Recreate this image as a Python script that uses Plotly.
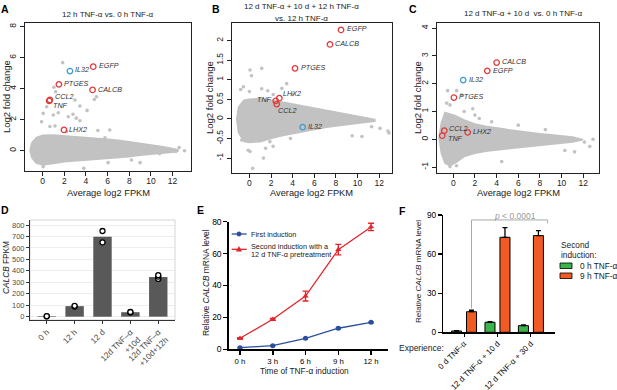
import plotly.graph_objects as go

W, H = 617, 390
FONT = "Liberation Sans, Arial, sans-serif"

# ======================= DATA =======================
genes = ["EGFP", "CALCB", "PTGES", "CCL2", "TNF", "LHX2", "IL32"]
ma_xticks = [0, 2, 4, 6, 8, 10, 12]

# Panel A : 12 h TNF-a vs. 0 h TNF-a
A_cloud_x = [-1.17, -1.0, -0.6, 0.0, 1.0, 2.0, 3.0, 4.0, 5.0, 6.0, 7.0, 8.0, 9.0, 10.0, 11.0, 12.0, 12.5]
A_cloud_hi = [0.0, 0.5, 0.85, 1.0, 1.02, 0.97, 0.92, 0.86, 0.8, 0.74, 0.67, 0.58, 0.48, 0.38, 0.27, 0.15, 0.05]
A_cloud_lo = [0.0, -0.45, -0.8, -0.92, -0.82, -0.72, -0.66, -0.6, -0.55, -0.49, -0.44, -0.39, -0.3, -0.22, -0.16, -0.1, -0.03]
A_out_x = [1.85, 1.04, 1.2, 2.98, 4.77, 4.98, 3.44, 4.1, 0.05, 0.98, 2.37, 3.44, -0.1, 0.67, 2.2, 5.1,
           6.2, 0.37, 1.44, 2.8, 3.1, 1.14, 5.75, 0.05, 3.8, 6.05, 8.2, 9.0, 10.8, 13.1, 12.3, 12.6]
A_out_y = [5.68, 4.09, 3.8, 3.27, 3.3, 3.48, 2.88, 2.6, 2.41, 2.3, 2.19, 1.93, 1.87, 1.56, 1.23, 1.3,
           1.34, 2.84, 2.45, 2.35, 2.1, 1.59, 0.84, -1.03, -1.14, -0.77, -0.6, -0.77, -0.2, 0.0, -0.05, 0.2]
A_gene_x = [4.67, 4.61, 1.5, 0.67, 0.6, 1.97, 2.52]
A_gene_y = [5.42, 3.92, 4.28, 3.27, 3.22, 1.34, 5.14]
A_yticks = [0, 2, 4, 6, 8]
A_yticktext = ["0", "2", "4", "6", "8"]

# Panel B : 12 d + 10 d + 12 h vs. 12 h
B_cloud_x = [-1.17, -1.0, -0.5, 0.0, 1.0, 2.0, 3.0, 4.0, 5.0, 6.0, 7.0, 8.0, 9.0, 10.0, 11.0, 11.6]
B_cloud_hi = [0.0, 0.3, 0.48, 0.5, 0.52, 0.48, 0.43, 0.38, 0.33, 0.28, 0.22, 0.17, 0.12, 0.07, 0.02, -0.02]
B_cloud_lo = [0.0, -0.35, -0.58, -0.6, -0.58, -0.5, -0.43, -0.38, -0.32, -0.27, -0.22, -0.18, -0.14, -0.11, -0.08, -0.06]
B_out_x = [0.06, 1.14, 0.2, -0.55, -0.8, 0.0, 1.14, 1.7, 2.2, 3.0, 3.45, 4.0, -0.7, -0.1, 0.06, 1.3,
           0.31, 1.9, 2.2, 9.5, 10.4, 12.07, 12.8, 12.9, 11.3, 3.8, 1.5]
B_out_y = [1.25, 1.29, 1.1, 0.82, 0.75, 0.7, 0.77, 0.72, 0.62, 0.78, 0.9, 0.62, -0.54, -0.8, -0.83, -1.0,
           -1.26, -0.58, -0.7, -0.43, -0.45, -0.24, -0.31, -0.36, -0.2, -0.5, -0.75]
B_gene_x = [8.47, 7.45, 4.22, 2.53, 2.44, 2.77, 4.93]
B_gene_y = [2.27, 1.9, 1.29, 0.38, 0.46, 0.53, -0.21]
B_yticks = [-1, -0.5, 0, 0.5, 1, 1.5, 2]
B_yticktext = ["-1", "-0.5", "0", "0.5", "1", "1.5", "2"]

# Panel C : 12 d + 10 d vs. 0 h
C_cloud_x = [-1.32, -1.1, -0.77, -0.3, 0.2, 1.0, 2.0, 3.0, 4.0, 5.0, 6.0, 7.0, 8.0, 9.0, 10.0, 11.0, 11.9]
C_cloud_hi = [0.05, 0.6, 0.97, 0.92, 0.85, 0.7, 0.55, 0.47, 0.4, 0.35, 0.3, 0.24, 0.2, 0.16, 0.12, 0.08, 0.0]
C_cloud_lo = [0.05, -0.5, -0.86, -0.95, -0.85, -0.62, -0.5, -0.43, -0.38, -0.33, -0.28, -0.24, -0.2, -0.17, -0.14, -0.1, -0.02]
C_out_x = [-0.52, 0.31, 0.77, -0.3, 2.0, 2.4, 1.0, 3.54, 6.0, 12.6, 12.1, 11.2, 4.47, -0.3, 0.3, 10.3,
           12.9, 8.5, 1.8, -0.6]
C_out_y = [1.75, 1.75, 1.6, 1.23, 0.87, 0.75, 1.0, 0.63, 0.51, -0.26, -0.1, -0.45, -0.8, -0.98, -0.95, -0.4,
           0.0, 0.35, 1.1, 1.3]
C_gene_x = [3.14, 4.0, 0.06, -0.83, -1.02, 1.33, 0.92]
C_gene_y = [2.46, 2.76, 1.5, 0.31, 0.13, 0.25, 2.13]
C_yticks = [-1, 0, 1, 2, 3, 4]
C_yticktext = ["-1", "0", "1", "2", "3", "4"]

# Panel D : CALCB FPKM
D_cats = ["0 h", "12 h", "12 d", "12d TNF–α<br>+10d", "12d TNF–α<br>+10d+12h"]
D_fpkm = [5, 92, 698, 39, 346]
D_rep_cat = [D_cats[0]] * 2 + [D_cats[1]] * 2 + [D_cats[2]] * 2 + [D_cats[3]] * 2 + [D_cats[4]] * 3
D_rep_val = [2, 5, 88, 95, 649, 748, 37, 41, 330, 350, 362]
D_yticks = [0, 100, 200, 300, 400, 500, 600, 700, 800]

# Panel E : time course
E_hours = [0, 3, 6, 9, 12]
E_hour_labels = ["0 h", "3 h", "6 h", "9 h", "12 h"]
E_first = [1.0, 2.3, 6.9, 13.2, 16.9]
E_first_err = [0.3, 0.3, 0.4, 0.5, 0.5]
E_second = [6.9, 18.8, 33.4, 62.5, 76.7]
E_second_err = [0.4, 0.6, 3.1, 3.3, 2.3]
E_yticks = [0, 20, 40, 60, 80]

# Panel F : memory bars
F_cats = ["0 d TNF-α", "12 d TNF-α + 10 d", "12 d TNF-α + 30 d"]
F_0h = [1.0, 7.7, 5.1]
F_0h_err = [0.3, 0.5, 0.5]
F_9h = [15.8, 72.9, 74.2]
F_9h_err = [1.1, 7.4, 3.8]
F_yticks = [0, 30, 60, 90]

# ======================= STYLE =======================
GRAY = "#c2c2c2"
RED = "#e23a3a"
BLUE = "#3a9ad6"
E_BLUE = "#2b4f9e"
E_RED = "#e3262b"
GREEN = "#3bb54a"
ORANGE = "#f15a22"

fig = go.Figure()
annotations = []
shapes = []


def pann(text, x, y, size, xanchor="center", yanchor="middle", angle=0, color="#222"):
    annotations.append(dict(text=text, x=x / W, y=1 - y / H, xref="paper", yref="paper",
                            showarrow=False, xanchor=xanchor, yanchor=yanchor, textangle=angle,
                            font=dict(family=FONT, size=size, color=color)))


def axname(i, kind):
    return kind if i == 1 else f"{kind}{i}"


def ma_panel(i, cx, hi, lo, ox, oy, gx, gy, lab):
    xa, ya = axname(i, "x"), axname(i, "y")
    fig.add_trace(go.Scatter(x=cx + cx[::-1], y=hi + lo[::-1], fill="toself", fillcolor=GRAY,
                             mode="lines", line=dict(color=GRAY, width=1.5), xaxis=xa, yaxis=ya,
                             hoverinfo="skip"))
    fig.add_trace(go.Scatter(x=ox, y=oy, mode="markers", marker=dict(color=GRAY, size=3.6),
                             xaxis=xa, yaxis=ya, hoverinfo="skip"))
    red = [k for k, g in enumerate(genes) if g != "IL32"]
    blue = [k for k, g in enumerate(genes) if g == "IL32"]
    for idx, col in ((red, RED), (blue, BLUE)):
        fig.add_trace(go.Scatter(x=[gx[k] for k in idx], y=[gy[k] for k in idx], mode="markers",
                                 marker=dict(symbol="circle-open", size=5.5, color=col,
                                             line=dict(width=1.3)),
                                 xaxis=xa, yaxis=ya, cliponaxis=False))
    for k, g in enumerate(genes):
        xs, ys, anc = lab[g]
        annotations.append(dict(text=f"<i>{g}</i>", x=gx[k], y=gy[k], xref=xa, yref=ya,
                                xshift=xs, yshift=ys, xanchor=anc, yanchor="middle",
                                showarrow=False, font=dict(family=FONT, size=7.2, color="#333")))


A_lab = {"EGFP": (3.5, 1, "left"), "CALCB": (3.5, 0.5, "left"), "PTGES": (3.5, 1, "left"),
         "CCL2": (3, 3.5, "left"), "TNF": (2, -5, "left"), "LHX2": (3, 0, "left"),
         "IL32": (3.5, 1.5, "left")}
B_lab = {"EGFP": (3.5, 1.5, "left"), "CALCB": (3.5, 1, "left"), "PTGES": (3.5, 0.5, "left"),
         "CCL2": (-1, -6, "left"), "TNF": (-2, 1, "right"), "LHX2": (2, 5, "left"),
         "IL32": (3, 1, "left")}
C_lab = {"EGFP": (3.5, 0.5, "left"), "CALCB": (3.5, 1, "left"), "PTGES": (3.5, 1.5, "left"),
         "CCL2": (3, 2.5, "left"), "TNF": (4, -3, "left"), "LHX2": (3, 0.5, "left"),
         "IL32": (3.5, 1, "left")}

ma_panel(1, A_cloud_x, A_cloud_hi, A_cloud_lo, A_out_x, A_out_y, A_gene_x, A_gene_y, A_lab)
ma_panel(2, B_cloud_x, B_cloud_hi, B_cloud_lo, B_out_x, B_out_y, B_gene_x, B_gene_y, B_lab)
ma_panel(3, C_cloud_x, C_cloud_hi, C_cloud_lo, C_out_x, C_out_y, C_gene_x, C_gene_y, C_lab)

# ---- Panel D ----
fig.add_trace(go.Bar(x=D_cats, y=D_fpkm, width=0.66, marker=dict(color="#595959", line=dict(width=0)),
                     xaxis="x4", yaxis="y4"))
fig.add_trace(go.Scatter(x=D_rep_cat, y=D_rep_val, mode="markers",
                         marker=dict(color="white", size=5, line=dict(color="black", width=1.3)),
                         xaxis="x4", yaxis="y4", cliponaxis=False))

# ---- Panel E ----
fig.add_trace(go.Scatter(x=E_hours, y=E_first, mode="lines+markers",
                         line=dict(color=E_BLUE, width=1.3),
                         marker=dict(symbol="circle", size=5, color=E_BLUE),
                         error_y=dict(type="data", array=E_first_err, color=E_BLUE, thickness=1.2, width=2.5),
                         xaxis="x5", yaxis="y5", cliponaxis=False))
fig.add_trace(go.Scatter(x=E_hours, y=E_second, mode="lines+markers",
                         line=dict(color=E_RED, width=1.3),
                         marker=dict(symbol="triangle-up", size=5.5, color=E_RED),
                         error_y=dict(type="data", array=E_second_err, color=E_RED, thickness=1.4, width=3),
                         xaxis="x5", yaxis="y5", cliponaxis=False))

# ---- Panel F ----
fig.add_trace(go.Bar(x=F_cats, y=F_0h, width=0.3, offset=-0.374,
                     marker=dict(color=GREEN, line=dict(color="black", width=1)),
                     error_y=dict(type="data", array=F_0h_err, arrayminus=[0] * len(F_0h_err),
                                  symmetric=False, color="black", thickness=1.3, width=2.5),
                     xaxis="x6", yaxis="y6"))
fig.add_trace(go.Bar(x=F_cats, y=F_9h, width=0.3, offset=0.074,
                     marker=dict(color=ORANGE, line=dict(color="black", width=1)),
                     error_y=dict(type="data", array=F_9h_err, arrayminus=[0] * len(F_9h_err),
                                  symmetric=False, color="black", thickness=1.3, width=2.5),
                     xaxis="x6", yaxis="y6"))

# ======================= AXES =======================
layout = dict(width=W, height=H, margin=dict(l=0, r=0, t=0, b=0), autosize=False,
              paper_bgcolor="white", plot_bgcolor="white", showlegend=False, barmode="overlay",
              font=dict(family=FONT))


def dom_x(a, b):
    return [a / W, b / W]


def dom_y(bottom, top):
    return [1 - bottom / H, 1 - top / H]


ma_specs = [
    (1, (25, 191), (171, 23), (-1.63, 13.7), (-1.31, 8.24), A_yticks, A_yticktext),
    (2, (231.7, 391.7), (173, 23.3), (-1.63, 13.15), (-1.38, 2.44), B_yticks, B_yticktext),
    (3, (436.7, 599), (172.7, 23.3), (-1.53, 13.45), (-1.2, 4.17), C_yticks, C_yticktext),
]
for i, xd, yd, xr, yr, ytv, ytt in ma_specs:
    common = dict(ticks="outside", ticklen=4, tickwidth=1, tickcolor="#222", showline=True,
                  linewidth=1.2, linecolor="#222", mirror=True, showgrid=False, zeroline=False,
                  tickfont=dict(size=8.5, color="#222", family=FONT), automargin=False, fixedrange=True)
    layout[axname(i, "xaxis")] = dict(domain=dom_x(*xd), range=list(xr), anchor=axname(i, "y"),
                                      tickvals=ma_xticks, ticklabelstandoff=-2, **common)
    layout[axname(i, "yaxis")] = dict(domain=dom_y(*yd), range=list(yr), anchor=axname(i, "x"),
                                      tickvals=ytv, ticktext=ytt, tickangle=-90, **common)

layout["xaxis4"] = dict(domain=dom_x(30, 175), range=[-0.6, 4.6], anchor="y4", type="category",
                        categoryorder="array", categoryarray=D_cats, tickangle=-45,
                        ticks="outside", ticklen=3, tickcolor="#333", showline=True, linecolor="#333",
                        linewidth=1, showgrid=False, zeroline=False,
                        tickfont=dict(size=8.3, color="#4d4d4d", family=FONT), automargin=False)
layout["yaxis4"] = dict(domain=dom_y(320, 220), range=[-29, 844], anchor="x4", tickvals=D_yticks,
                        ticks="outside", ticklen=3, tickcolor="#333", showline=True, linecolor="#333",
                        linewidth=1, showgrid=True, gridcolor="#e8e8e8", gridwidth=0.8, zeroline=False,
                        tickfont=dict(size=7.5, color="#4d4d4d", family=FONT), automargin=False)

layout["xaxis5"] = dict(domain=dom_x(229.3, 388), range=[-0.98, 13.55], anchor="y5", tickvals=E_hours,
                        ticktext=E_hour_labels, ticks="outside", ticklen=3.5, tickwidth=1.5, tickcolor="black",
                        showline=True, linecolor="black", linewidth=2, showgrid=False, zeroline=False,
                        tickfont=dict(size=7.8, color="black", family=FONT), automargin=False)
layout["yaxis5"] = dict(domain=dom_y(349.3, 221.7), range=[0, 80], anchor="x5", tickvals=E_yticks,
                        ticks="outside", ticklen=4, tickwidth=1.5, tickcolor="black", showline=True,
                        linecolor="black", linewidth=2, showgrid=False, zeroline=False,
                        tickfont=dict(size=8.5, color="black", family=FONT), automargin=False)

layout["xaxis6"] = dict(domain=dom_x(443.3, 555), range=[-0.62, 2.72], anchor="y6", type="category",
                        categoryorder="array", categoryarray=F_cats, tickangle=-45, ticks="outside",
                        ticklen=3, tickcolor="black", showline=True, linecolor="black", linewidth=1.5,
                        showgrid=False, zeroline=False, tickfont=dict(size=8, color="black", family=FONT),
                        ticklabelstandoff=-1, automargin=False)
layout["yaxis6"] = dict(domain=dom_y(332.3, 215), range=[0, 90], anchor="x6", tickvals=F_yticks,
                        ticks="outside", ticklen=4, tickwidth=1.3, tickcolor="black", showline=True,
                        linecolor="black", linewidth=1.5, showgrid=False, zeroline=False,
                        tickfont=dict(size=8.3, color="black", family=FONT), automargin=False)

# D light panel border (top / right)
shapes.append(dict(type="rect", xref="paper", yref="paper", x0=30 / W, x1=175 / W, y0=1 - 320 / H,
                   y1=1 - 220 / H, line=dict(color="#c8c8c8", width=0.8), layer="below"))

# F significance bracket
BR = dict(color="#a8a8a8", width=1)
shapes += [
    dict(type="line", xref="x6", yref="y6", x0=0.224, x1=0.224, y0=18.4, y1=86.2, line=BR),
    dict(type="line", xref="x6", yref="y6", x0=0.224, x1=2.5, y0=86.2, y1=86.2, line=BR),
    dict(type="line", xref="x6", yref="y6", x0=2.5, x1=2.5, y0=86.2, y1=83.6, line=BR),
]


def px(x):
    return x / W


def py(y):
    return 1 - y / H


# E legend (manual)
shapes.append(dict(type="line", xref="paper", yref="paper", x0=px(231.7), x1=px(246.7), y0=py(234),
                   y1=py(234), line=dict(color=E_BLUE, width=1.3)))
shapes.append(dict(type="circle", xref="paper", yref="paper", x0=px(236.8), x1=px(241.2), y0=py(236.2),
                   y1=py(231.8), fillcolor=E_BLUE, line=dict(color=E_BLUE, width=0.5)))
shapes.append(dict(type="line", xref="paper", yref="paper", x0=px(231.7), x1=px(246.7), y0=py(249.3),
                   y1=py(249.3), line=dict(color=E_RED, width=1.3)))
shapes.append(dict(type="path", xref="paper", yref="paper",
                   path=f"M{px(239)},{py(246.6)} L{px(236.3)},{py(251.3)} L{px(241.7)},{py(251.3)} Z",
                   fillcolor=E_RED, line=dict(color=E_RED, width=0.5)))
pann("First induction", 249, 234, 7.3, xanchor="left")
pann("Second induction with a", 249, 246.8, 7.3, xanchor="left")
pann("12 d TNF-α pretreatment", 249, 254.6, 7.3, xanchor="left")

# F legend (manual)
shapes.append(dict(type="rect", xref="paper", yref="paper", x0=px(560), x1=px(572), y0=py(268.5),
                   y1=py(263), fillcolor=GREEN, line=dict(color="black", width=0.8)))
shapes.append(dict(type="rect", xref="paper", yref="paper", x0=px(560), x1=px(572), y0=py(278.5),
                   y1=py(273), fillcolor=ORANGE, line=dict(color="black", width=0.8)))
pann("Second", 559, 245, 8.3, xanchor="left")
pann("induction:", 559, 254.5, 8.3, xanchor="left")
pann("0 h TNF-α", 578, 265.7, 8.3, xanchor="left")
pann("9 h TNF-α", 578, 275.7, 8.3, xanchor="left")
pann("<i>p</i> &lt; 0.0001", 515, 215.5, 8.5, color="#9a9a9a")
pann("Experience:", 446, 348, 8.5, xanchor="right")

# titles
pann("12 h TNF-α vs. 0 h TNF-α", 107.5, 15, 8)
pann("12 d TNF-α + 10 d + 12 h TNF-α", 301, 6.5, 8)
pann("vs. 12 h TNF-α", 301, 18.5, 8)
pann("12 d TNF-α + 10 d \u00a0vs. 0 h TNF-α", 523, 14, 8)

# axis titles
for xc, yc in ((6, 97), (209, 98), (417, 98)):
    pann("Log2 fold change", xc, yc, 9.5, angle=-90)
for xc in (108, 311, 518):
    pann("Average log2 FPKM", xc, 193, 9.3)
pann("<i>CALCB</i> FPKM", 6, 268, 8.3, angle=-90)
pann("Relative <i>CALCB</i> mRNA level", 206, 283, 8.4, angle=-90)
pann("Time of TNF-α induction", 304, 370.5, 8.3)
pann("Relative <i>CALCB</i> mRNA level", 418, 272, 8.1, angle=-90)

# panel letters
for letter, xc, yc in (("A", 5, 9), ("B", 216, 8.5), ("C", 413, 9), ("D", 5, 210), ("E", 200, 210),
                       ("F", 402, 211)):
    pann(f"<b>{letter}</b>", xc, yc, 10.5, color="black")

layout["annotations"] = annotations
layout["shapes"] = shapes
fig.update_layout(**layout)
fig.write_html("out.html", config={"displayModeBar": False, "staticPlot": True},
               post_script="document.body.style.margin='0';document.body.style.padding='0';")
